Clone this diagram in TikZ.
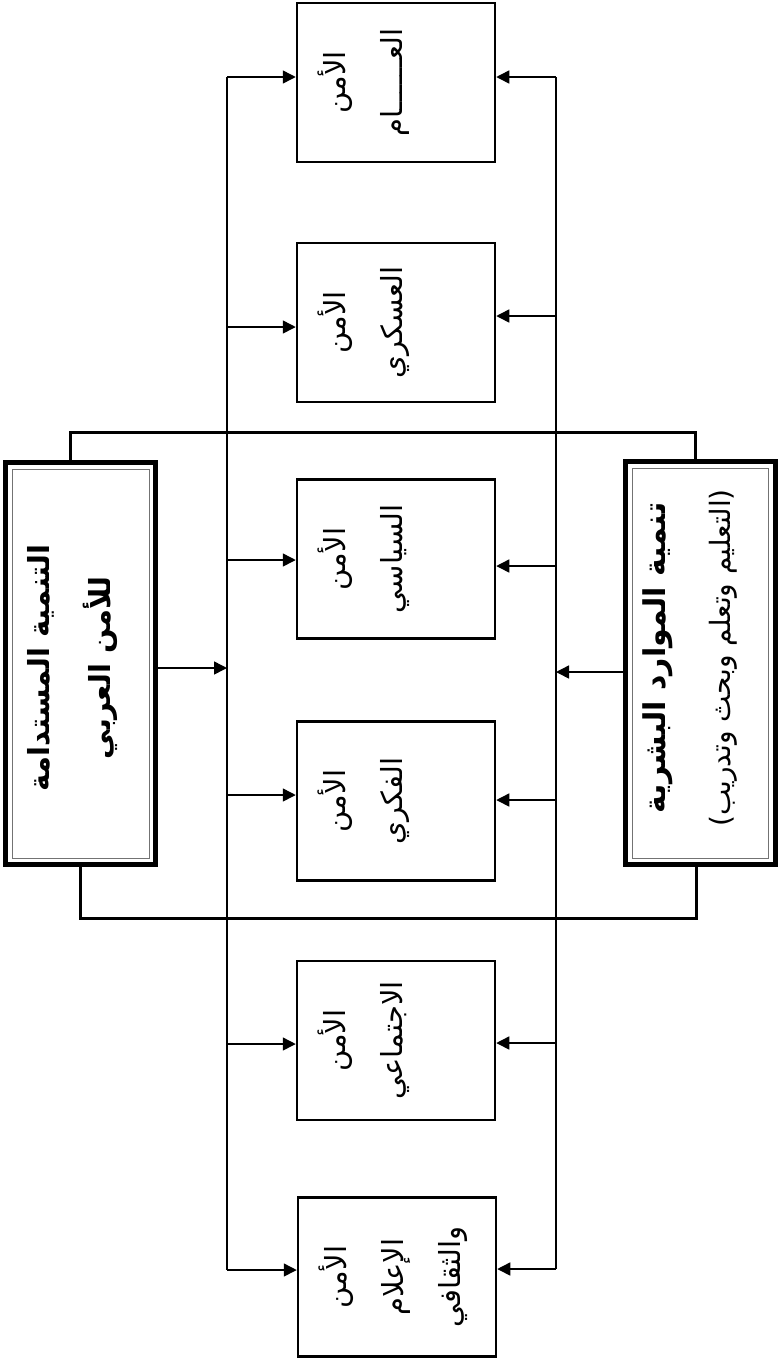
\documentclass[tikz,border=0pt]{standalone}
\usepackage{fontspec}
\newfontfamily\arabicfont[Script=Arabic]{DejaVu Sans}
\TeXXeTstate=1
\usetikzlibrary{arrows.meta,calc}
\newcommand\rtl[1]{\beginR #1\endR}
\begin{document}
\begin{tikzpicture}[x=1pt,y=-1pt,
 smallbox/.style={draw,line width=2.5pt,minimum width=198pt,minimum height=159pt,inner sep=0pt},
 bigbox/.style={draw,line width=5pt,inner sep=0pt},
 innerline/.style={draw=black!55,line width=1pt},
 vline/.style={line width=1.5pt},
 bar/.style={line width=3pt},
 arr/.style={line width=1.5pt,-{Triangle[length=13pt,width=13pt]}},
 boxtext/.style={rotate=90,anchor=north,align=center,inner sep=0pt,
   font=\arabicfont\fontsize{29}{57}\selectfont},
 bigtext/.style={rotate=90,align=center,inner sep=0pt},
]
\useasboundingbox (0,0) rectangle (778,1366);

% small boxes
\node[smallbox] (b1) at (396,82.5) {};
\node[smallbox] (b2) at (396,322.5) {};
\node[smallbox] (b3) at (396,559) {};
\node[smallbox] (b4) at (396,801) {};
\node[smallbox] (b5) at (396,1040.5) {};
\node[smallbox] (b6) at (397,1277) {};

\node[boxtext] (t1) at ([xshift=22pt]b1.west) {\rtl{الأمن}\\\rtl{العــــــام}};
\node[boxtext] (t2) at ([xshift=22pt]b2.west) {\rtl{الأمن}\\\rtl{العسكري}};
\node[boxtext] (t3) at ([xshift=22pt]b3.west) {\rtl{الأمن}\\\rtl{السياسي}};
\node[boxtext] (t4) at ([xshift=22pt]b4.west) {\rtl{الأمن}\\\rtl{الفكري}};
\node[boxtext] (t5) at ([xshift=22pt]b5.west) {\rtl{الأمن}\\\rtl{الاجتماعي}};
\node[boxtext] (t6) at ([xshift=22pt]b6.west) {\rtl{الأمن}\\\rtl{الإعلام}\\\rtl{والثقافي}};

% big boxes
\node[bigbox,minimum width=150pt,minimum height=402pt] (L) at (80.5,663.5) {};
\draw[innerline] ([shift={(9,9)}]L.north west) rectangle ([shift={(-9,-9)}]L.south east);
\node[bigbox,minimum width=149.5pt,minimum height=403pt] (R) at (700.25,663) {};
\draw[innerline] ([shift={(9,9)}]R.north west) rectangle ([shift={(-9,-9)}]R.south east);

\node[bigtext,font=\arabicfont\bfseries\fontsize{29}{61}\selectfont] (lt) at (73,668)
  {\rtl{التنمية المستدامة}\\\rtl{للأمن العربي}};
\node[bigtext,font=\arabicfont\fontsize{28}{65}\selectfont] (rt) at (690,658)
  {{\bfseries\fontsize{30}{65}\selectfont\rtl{تنمية الموارد البشرية}}\\\rtl{(التعليم وتعلم وبحث وتدريب)}};

% left and right distribution lines
\coordinate (l1) at (227,77);   \coordinate (r1) at (556,77);
\coordinate (l2) at (227,327);  \coordinate (r2) at (556,316);
\coordinate (l3) at (227,560);  \coordinate (r3) at (556,566);
\coordinate (l4) at (227,795);  \coordinate (r4) at (556,800);
\coordinate (l5) at (227,1044); \coordinate (r5) at (556,1043);
\coordinate (l6) at (227,1270); \coordinate (r6) at (556,1269);

\draw[vline] (l1) -- (l6);
\draw[vline] (r1) -- (r6);

\foreach \i in {1,...,6}{
  \draw[arr] (l\i) -- (l\i -| b\i.west);
  \draw[arr] (r\i) -- (r\i -| b\i.east);
}

% middle arrows from the big boxes
\coordinate (lm) at (227,668);
\coordinate (rm) at (556,672);
\draw[arr] (L.east |- lm) -- (lm);
\draw[arr] (R.west |- rm) -- (rm);

% top and bottom bars
\coordinate (tb1) at (70,432);  \coordinate (tb2) at (695,432);
\coordinate (bb1) at (80,918);  \coordinate (bb2) at (696,918);
\draw[bar] (tb1 |- L.north) -- (tb1) -- (tb2) -- (tb2 |- R.north);
\draw[bar] (bb1 |- L.south) -- (bb1) -- (bb2) -- (bb2 |- R.south);
\end{tikzpicture}
\end{document}
